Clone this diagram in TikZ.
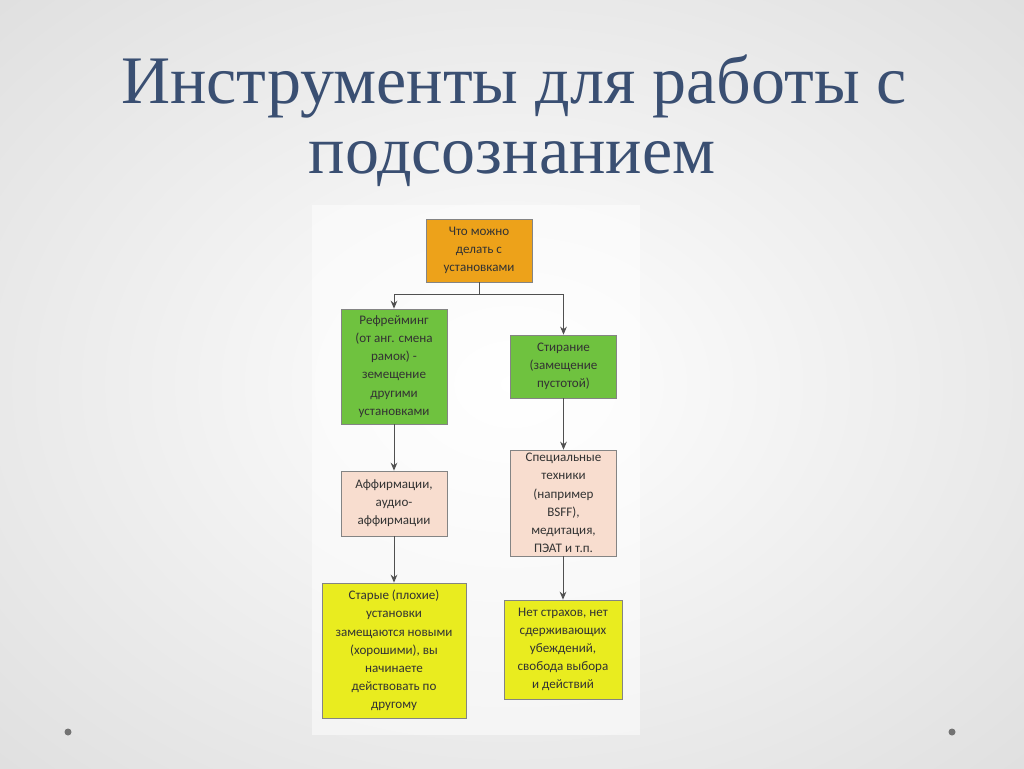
\documentclass[tikz,border=0pt]{standalone}
\usepackage{fontspec}
\setmainfont{Liberation Serif}
\newfontfamily\boxfont{Carlito}
\usetikzlibrary{arrows.meta,shadows}
\definecolor{titlec}{HTML}{3A4F72}
\definecolor{orangec}{HTML}{EDA21A}
\definecolor{greenc}{HTML}{6FC23F}
\definecolor{peachc}{HTML}{F8DDCF}
\definecolor{yellowc}{HTML}{E9EC1F}
\definecolor{linec}{HTML}{505050}
\tikzset{
  bx/.style={draw=linec!70, line width=0.5pt, align=center, font=\boxfont\fontsize{9.8}{13.6}\selectfont, text=black!80, inner sep=2pt, minimum width=#1*0.75pt},
  conn/.style={draw=linec, line width=0.7pt, -{Stealth[length=6pt,width=5pt]}},
  ttl/.style={text=titlec, font=\fontsize{51}{60}\selectfont}
}
\begin{document}
\begin{tikzpicture}[x=0.75pt,y=-0.75pt]
\useasboundingbox (0,0) rectangle (1024,768);
\shade[inner color=white, outer color=black!12] (-200,-150) rectangle (1224,918);
\fill[white, opacity=0.5] (312,205) rectangle (640,735);
\fill[black!55] (68,732) circle (3.5);
\fill[black!55] (952,732) circle (3.5);
\node[ttl] (t1) at (514,86) {Инструменты для работы с};
\node[ttl] (t2) at (512,164) {подсознанием};
\node[bx=106, fill=orangec, minimum height=63*0.75pt] (a) at (479,250.5) {Что можно\\делать с\\установками};
\node[bx=106, fill=greenc, minimum height=115*0.75pt] (b) at (394,366.5) {Рефрейминг\\(от анг. смена\\рамок) -\\земещение\\другими\\установками};
\node[bx=106, fill=greenc, minimum height=63*0.75pt] (c) at (563.5,366.5) {Стирание\\(замещение\\пустотой)};
\node[bx=106, fill=peachc, minimum height=65*0.75pt] (d) at (394,503.5) {Аффирмации,\\аудио-\\аффирмации};
\node[bx=106, fill=peachc, minimum height=106*0.75pt] (e) at (563.5,503) {Специальные\\техники\\(например\\BSFF),\\медитация,\\ПЭАТ и т.п.};
\node[bx=144, fill=yellowc, minimum height=135*0.75pt] (f) at (394,650.5) {Старые (плохие)\\установки\\замещаются новыми\\(хорошими), вы\\начинаете\\действовать по\\другому};
\node[bx=118, fill=yellowc, minimum height=99*0.75pt] (g) at (563,649.5) {Нет страхов, нет\\сдерживающих\\убеждений,\\свобода выбора\\и действий};
\coordinate (j) at (479,294);
\draw[draw=linec, line width=0.7pt] (a.south) -- (j);
\draw[conn] (j) -| (b.north);
\draw[conn] (j) -| (c.north);
\draw[conn] (b) -- (d);
\draw[conn] (d) -- (f);
\draw[conn] (c) -- (e);
\draw[conn] (e.south -| g.north) -- (g.north);
\end{tikzpicture}
\end{document}
